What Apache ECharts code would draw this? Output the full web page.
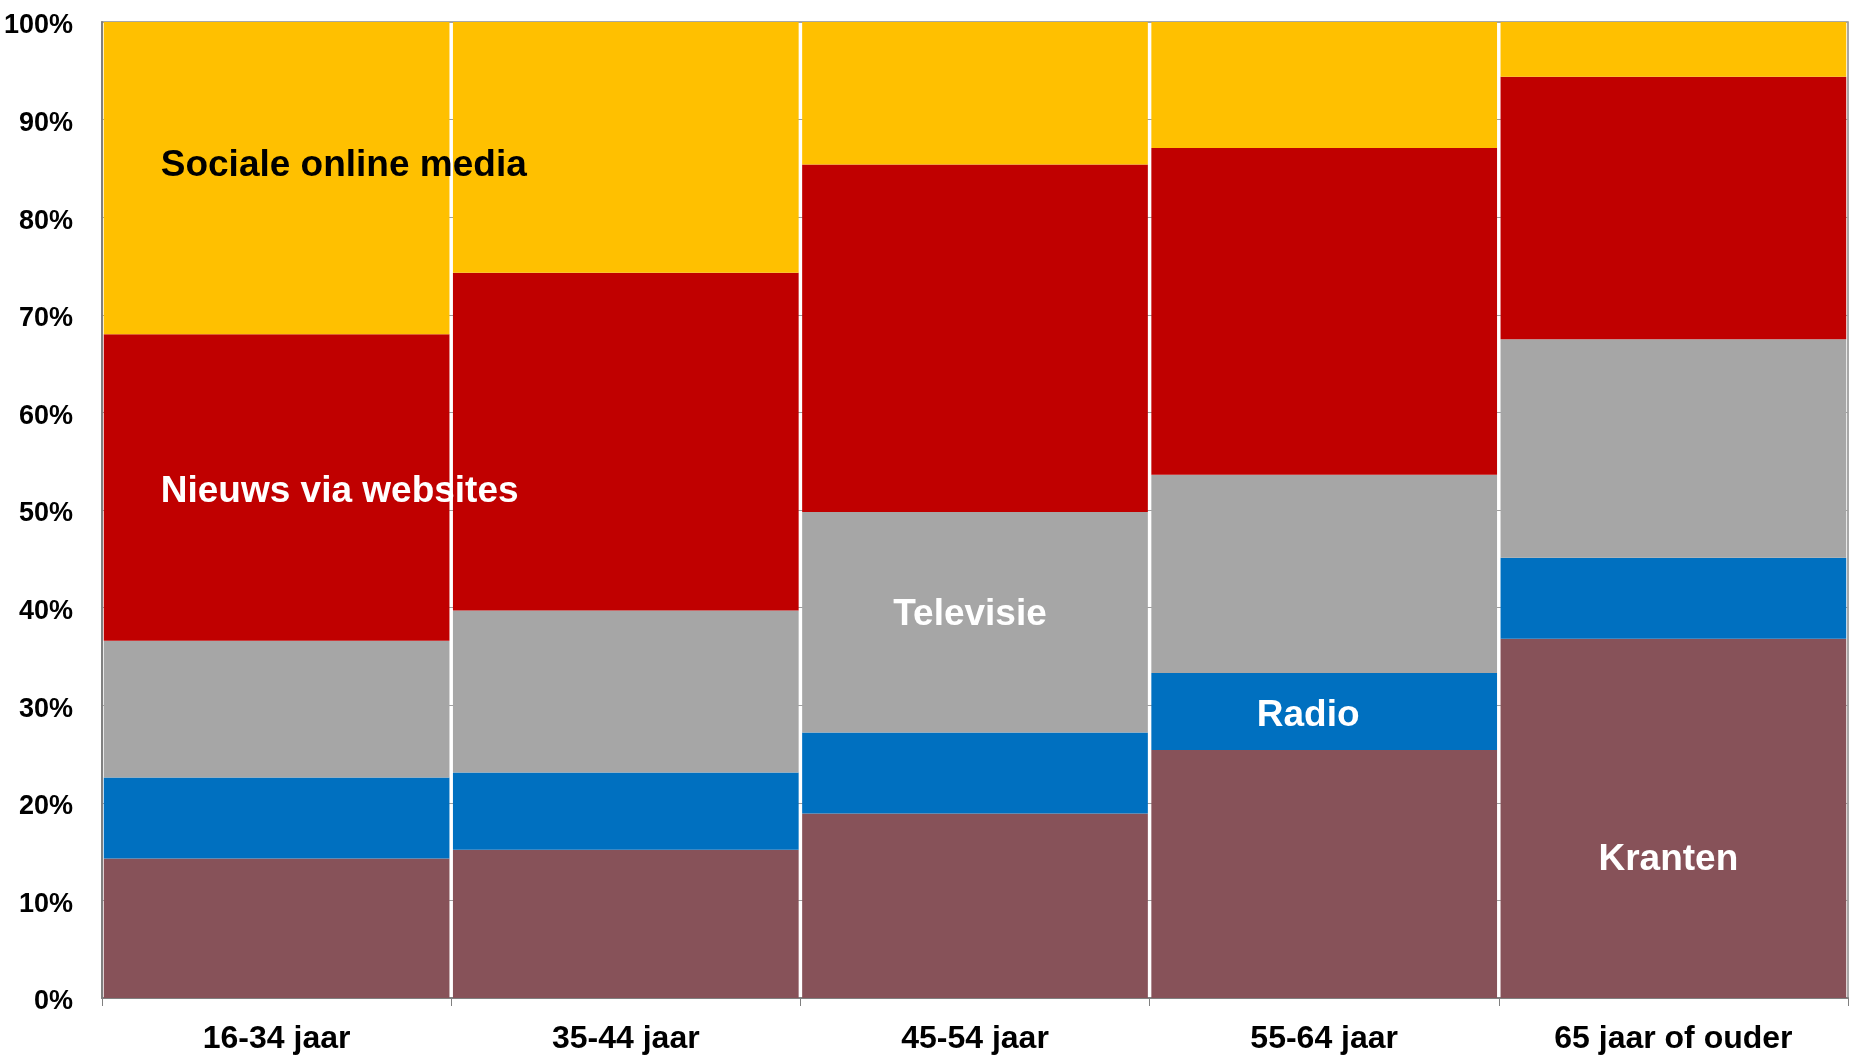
<!DOCTYPE html>
<html>
<head>
<meta charset="utf-8">
<title>Nieuwsbronnen per leeftijd</title>
<script src="https://cdn.jsdelivr.net/npm/echarts@6/dist/echarts.min.js"></script>
<style>
  html, body { margin: 0; padding: 0; background: #fff; }
  #main { width: 1854px; height: 1056px; }
</style>
</head>
<body>
<div id="main"></div>
<script>
// categorieen (x-as)
var leeftijden = ['16-34 jaar', '35-44 jaar', '45-54 jaar', '55-64 jaar', '65 jaar of ouder'];
// y-as labels
var yTicks = ['0%', '10%', '20%', '30%', '40%', '50%', '60%', '70%', '80%', '90%', '100%'];

// aandeel per bron, in procent (van onder naar boven gestapeld)
var kranten  = [14.3, 15.2, 18.9, 25.4, 36.8];
var radio    = [8.3, 7.9, 8.3, 7.9, 8.3];
var televisie = [14.0, 16.6, 22.6, 20.3, 22.4];
var websites = [31.4, 34.6, 35.6, 33.5, 26.9];
var sociaal  = [32.0, 25.7, 14.6, 12.9, 5.6];

var font = '"Liberation Sans", Arial, sans-serif';

// label op een enkel segment zetten
function withLabel(values, idx, text, color, pos, offset) {
    return values.map(function (v, i) {
        if (i !== idx) return v;
        return {
            value: v,
            label: {
                show: true,
                formatter: text,
                position: pos,
                offset: offset,
                color: color,
                fontFamily: font,
                fontWeight: 'bold',
                fontSize: 37
            }
        };
    });
}

var chart = echarts.init(document.getElementById('main'));
var option = {
    animation: false,
    backgroundColor: '#ffffff',
    grid: {
        left: 102,
        right: 6,
        top: 22,
        bottom: 58,
        show: true,
        borderColor: '#8c8c8c',
        borderWidth: 1.5
    },
    xAxis: {
        type: 'category',
        data: leeftijden,
        axisLine: { lineStyle: { color: '#808080', width: 2 } },
        axisTick: { show: true, length: 8, lineStyle: { color: '#808080', width: 1 } },
        axisLabel: {
            color: '#000',
            fontFamily: font,
            fontWeight: 'bold',
            fontSize: 32,
            margin: 25
        }
    },
    yAxis: {
        type: 'value',
        min: 0,
        max: 100,
        interval: 10,
        axisLine: { show: true, lineStyle: { color: '#808080', width: 2 } },
        axisTick: { show: false },
        splitLine: { lineStyle: { color: '#a0a0a0', width: 1 } },
        axisLabel: {
            color: '#000',
            fontFamily: font,
            fontWeight: 'bold',
            fontSize: 27,
            margin: 29,
            verticalAlign: 'top',
            lineHeight: 8,
            formatter: function (v) { return yTicks[Math.round(v / 10)]; }
        }
    },
    series: [
        {
            name: 'Kranten', type: 'bar', stack: 'totaal', barCategoryGap: '1%',
            itemStyle: { color: '#875259' },
            data: withLabel(kranten, 4, 'Kranten', '#fff', 'inside', [-5, 41])
        },
        {
            name: 'Radio', type: 'bar', stack: 'totaal',
            itemStyle: { color: '#0070c0' },
            data: withLabel(radio, 3, 'Radio', '#fff', 'inside', [-16, 4])
        },
        {
            name: 'Televisie', type: 'bar', stack: 'totaal',
            itemStyle: { color: '#a6a6a6' },
            data: withLabel(televisie, 2, 'Televisie', '#fff', 'inside', [-5, -7])
        },
        {
            name: 'Nieuws via websites', type: 'bar', stack: 'totaal',
            itemStyle: { color: '#c00000' },
            data: withLabel(websites, 0, 'Nieuws via websites', '#fff', 'insideLeft', [52, 4])
        },
        {
            name: 'Sociale online media', type: 'bar', stack: 'totaal',
            itemStyle: { color: '#ffc000' },
            data: withLabel(sociaal, 0, 'Sociale online media', '#000', 'insideLeft', [52, -12])
        }
    ]
};
chart.setOption(option);
</script>
</body>
</html>
